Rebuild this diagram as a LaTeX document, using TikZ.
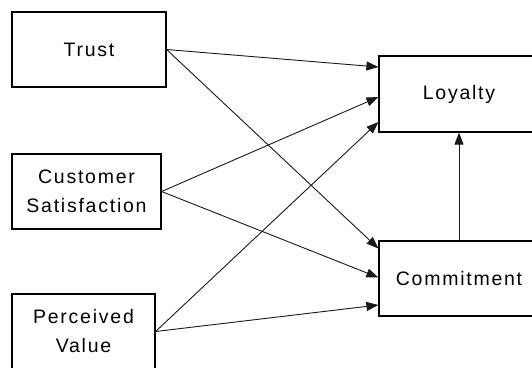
\documentclass[tikz,border=0pt]{standalone}
\usepackage{fontspec}
\setmainfont[LetterSpace=9]{Liberation Sans}
\usepackage{tikz}
\usetikzlibrary{arrows.meta,positioning}

\begin{document}
\begin{tikzpicture}[x=1pt, y=-1pt,
            construct/.style={rectangle, draw=black, line width=1.2pt, align=center,
            inner sep=0pt, text=black, font=\fontsize{19.5}{29}\selectfont},
            path/.style={draw=black!90, line width=0.9pt, -{Triangle[length=12pt,width=9pt]}}]
            \useasboundingbox (0,0) rectangle (532,367);
            \clip (0,0) rectangle (532,367);

            \node (trust) [construct, minimum width=154pt, minimum height=75pt] at (89,49.5) {Trust};
            \node (satisfaction) [construct, minimum width=149pt, minimum height=75pt] at (86.5,191.5) {Customer\\Satisfaction};
            \node (value) [construct, minimum width=143pt, minimum height=75pt] at (83.5,331.5) {Perceived\\Value};

            \node (loyalty) [construct, minimum width=160pt, minimum height=76pt] at (459,94) {Loyalty};
            \node (commitment) [construct, minimum width=160pt, minimum height=75pt] at (459,278.5) {Commitment};

            \draw [path] (trust.east) -- ([yshift=27pt]loyalty.west);
            \draw [path] (trust.east) -- ([yshift=30pt]commitment.west);
            \draw [path] (satisfaction.east) -- ([yshift=-3pt]loyalty.west);
            \draw [path] (satisfaction.east) -- ([yshift=1pt]commitment.west);
            \draw [path] (value.east) -- ([yshift=-28pt]loyalty.west);
            \draw [path] (value.east) -- ([yshift=-26.5pt]commitment.west);
            \draw [path] (commitment.north) -- (loyalty.south);
        \end{tikzpicture}
\end{document}
